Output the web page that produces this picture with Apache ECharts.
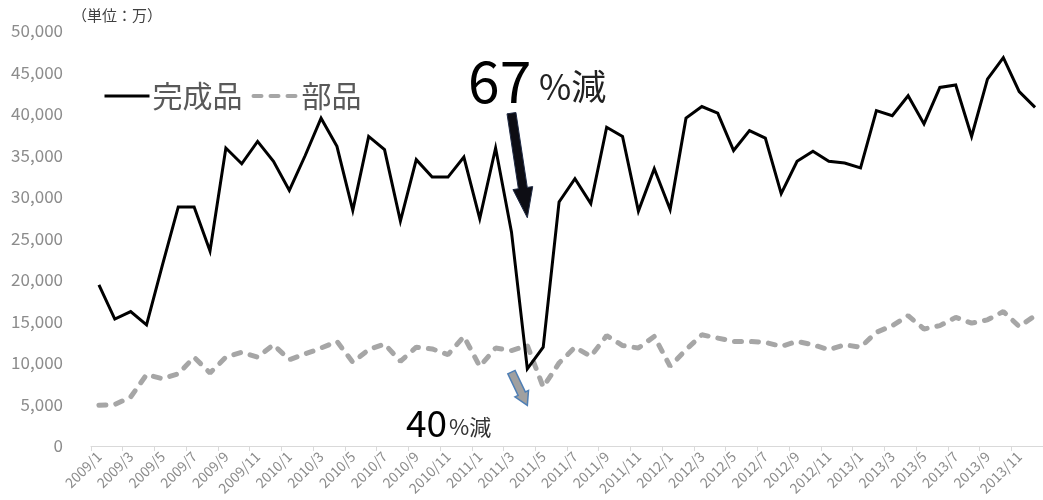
<!DOCTYPE html>
<html>
<head>
<meta charset="utf-8">
<script src="https://cdn.jsdelivr.net/npm/echarts@6/dist/echarts.min.js"></script>
<style>
  html, body { margin: 0; padding: 0; background: #fff; }
  #chart { width: 1043px; height: 500px; }
</style>
</head>
<body>
<div id="chart"></div>
<script>
// Monthly categories, 2009/1 .. 2013/12
const years = [2009, 2010, 2011, 2012, 2013];
const months = [];
years.forEach(function (y) {
  for (let m = 1; m <= 12; m++) months.push(y + '/' + m);
});

// 完成品 (finished goods), unit: 万
const finished = [
  19400, 15300, 16200, 14600, 21800, 28800, 28800, 23500, 35900, 34000, 36700, 34300,
  30800, 35000, 39500, 36100, 28400, 37300, 35700, 27100, 34500, 32400, 32400, 34800,
  27400, 35900, 25800, 9300, 11900, 29400, 32200, 29200, 38400, 37300, 28300, 33400,
  28500, 39500, 40900, 40100, 35600, 38000, 37100, 30400, 34300, 35500, 34300, 34100,
  33500, 40400, 39800, 42200, 38800, 43200, 43500, 37300, 44200, 46800, 42700, 40800
];

// 部品 (parts), unit: 万
const parts = [
  4900, 5000, 5900, 8600, 8100, 8700, 10700, 8800, 10700, 11300, 10700, 12200,
  10400, 11100, 11800, 12600, 10100, 11600, 12300, 10200, 11900, 11700, 11000, 13200,
  9600, 11800, 11500, 12100, 7100, 10000, 11900, 10800, 13300, 12100, 11800, 13200,
  9600, 11600, 13400, 13000, 12600, 12600, 12500, 12000, 12600, 12200, 11600, 12200,
  11900, 13700, 14500, 15700, 14100, 14500, 15500, 14800, 15200, 16200, 14400, 15700
];

const yTicks = { min: 0, max: 50000, interval: 5000 };

const chart = echarts.init(document.getElementById('chart'), null, { renderer: 'canvas' });
const FONT = '"Noto Sans CJK JP", "Noto Sans", sans-serif';

chart.setOption({
  animation: false,
  backgroundColor: '#ffffff',
  textStyle: { fontFamily: FONT },
  grid: { left: 91, right: -5, top: 31, bottom: 54, containLabel: false },
  legend: {
    left: 98,
    top: 76,
    itemWidth: 45,
    itemHeight: 14,
    itemGap: 9,
    itemStyle: { opacity: 0 },
    textStyle: { fontSize: 30, color: '#595959', fontFamily: FONT, padding: [0, 0, 0, -2] },
    data: [
      { name: '完成品', lineStyle: { width: 3, color: '#000000' } },
      { name: '部品', lineStyle: { width: 4, color: '#a6a6a6', type: [8, 9], cap: 'round' } }
    ]
  },
  xAxis: {
    type: 'category',
    data: months,
    boundaryGap: true,
    axisLine: { lineStyle: { color: '#d9d9d9', width: 1 } },
    axisTick: { show: true, interval: 1, length: 5, lineStyle: { color: '#d9d9d9' } },
    axisLabel: {
      interval: 1,
      rotate: 45,
      fontSize: 14,
      color: '#8c8c8c',
      margin: 8,
      fontFamily: FONT
    },
    splitLine: { show: false }
  },
  yAxis: {
    type: 'value',
    min: yTicks.min,
    max: yTicks.max,
    interval: yTicks.interval,
    axisLine: { show: false },
    axisTick: { show: false },
    splitLine: { show: false },
    axisLabel: {
      fontSize: 17,
      color: '#8c8c8c',
      margin: 28,
      fontFamily: FONT,
      formatter: function (v) { return v.toLocaleString('en-US'); }
    }
  },
  series: [
    {
      name: '完成品',
      type: 'line',
      data: finished,
      symbol: 'none',
      lineStyle: { color: '#000000', width: 3, join: 'miter' },
      itemStyle: { color: '#000000' },
      z: 3
    },
    {
      name: '部品',
      type: 'line',
      data: parts,
      symbol: 'none',
      lineStyle: { color: '#a6a6a6', width: 5, type: [7, 10], cap: 'round' },
      itemStyle: { color: '#a6a6a6' },
      z: 2
    }
  ]
});

// Build a block arrow polygon from tail to tip (pixel points)
function arrowPolygon(p0, p1, shaftW, headW, headL) {
  const dx = p1[0] - p0[0], dy = p1[1] - p0[1];
  const len = Math.sqrt(dx * dx + dy * dy);
  const ux = dx / len, uy = dy / len;
  const nx = -uy, ny = ux;
  const bx = p1[0] - ux * headL, by = p1[1] - uy * headL;
  const s = shaftW / 2, h = headW / 2;
  return [
    [p0[0] + nx * s, p0[1] + ny * s],
    [bx + nx * s, by + ny * s],
    [bx + nx * h, by + ny * h],
    [p1[0], p1[1]],
    [bx - nx * h, by - ny * h],
    [bx - nx * s, by - ny * s],
    [p0[0] - nx * s, p0[1] - ny * s]
  ];
}

function px(pt) { return chart.convertToPixel({ gridIndex: 0 }, pt); }

// Arrow anchors in data space: [category index, value]
const bigArrow = { from: [26.23, 40100], to: [27.17, 27500] };
const smallArrow = { from: [25.86, 8900], to: [26.62, 4900] };

chart.setOption({
  graphic: [
    {
      type: 'text', left: 72, top: 8,
      style: { text: '（単位：万）', fontSize: 15, fill: '#404040', fontFamily: FONT }
    },
    {
      type: 'polygon',
      shape: { points: arrowPolygon(px(bigArrow.from), px(bigArrow.to), 9, 20, 30) },
      style: { fill: '#0d0d14', stroke: '#1f2a44', lineWidth: 1 },
      z: 10
    },
    {
      type: 'polygon',
      shape: { points: arrowPolygon(px(smallArrow.from), px(smallArrow.to), 8, 15, 13) },
      style: { fill: '#a0a0a0', stroke: '#4f7fb5', lineWidth: 1.5 },
      z: 10
    },
    {
      type: 'text', x: 468, y: 81,
      style: { text: '67', fontSize: 57, fill: '#000000', fontFamily: FONT, verticalAlign: 'middle' },
      z: 11
    },
    {
      type: 'text', x: 539, y: 87,
      style: { text: '%減', fontSize: 35, fill: '#222222', fontFamily: FONT, verticalAlign: 'middle' },
      z: 11
    },
    {
      type: 'text', x: 406, y: 423,
      style: { text: '40', fontSize: 37, fill: '#000000', fontFamily: FONT, verticalAlign: 'middle' },
      z: 11
    },
    {
      type: 'text', x: 449, y: 427,
      style: { text: '%減', fontSize: 22, fill: '#333333', fontFamily: FONT, verticalAlign: 'middle' },
      z: 11
    }
  ]
});
</script>
</body>
</html>
